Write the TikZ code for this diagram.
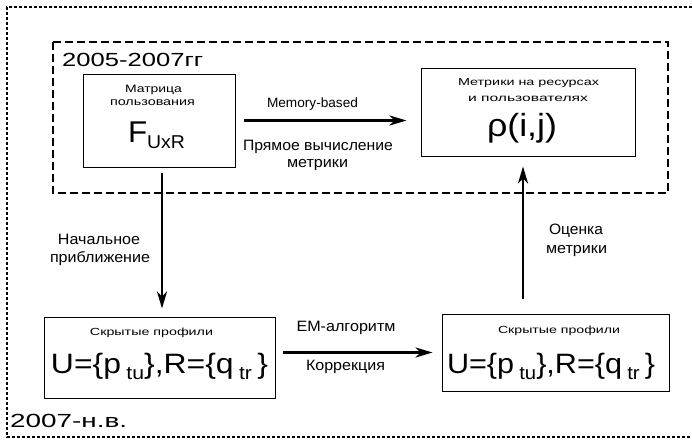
\documentclass[tikz,border=0pt]{standalone}
\usepackage{fontspec}
\usepackage{graphicx}
\setmainfont{Liberation Sans}
\usetikzlibrary{arrows.meta}
\newcommand{\fsz}[1]{\fontsize{#1}{#1}\selectfont}
% text of a given size, set to a given width
\newcommand{\fw}[3]{\resizebox{#1pt}{\height}{\fsz{#2}#3}}
\newcommand{\subtxt}[1]{\raisebox{-6.5pt}{\fsz{18.6}#1}}
\newcommand{\profiles}{\fsz{28}U=\{p\,\subtxt{tu}\},R=\{q\,\subtxt{tr}\,\}}
\begin{document}
\begin{tikzpicture}[x=1pt,y=-1pt,
  box/.style={draw,line width=0.9pt,inner sep=0pt},
  txt/.style={inner sep=0pt,anchor=base},
  era/.style={inner sep=0pt,anchor=base west},
  arr/.style={line width=2.4pt,-{Stealth[length=17pt,width=10pt,inset=5pt]}}]
\useasboundingbox (0,0) rectangle (692,441);

% period frames
\draw[line width=2.6pt,dash pattern=on 3pt off 2pt] (697,7) -- (7,7) -- (7,437) -- (697,437);
\draw[line width=2.6pt,dash pattern=on 8pt off 4pt] (53,42) rectangle (668,193);
\node[era] (e1) at (62,67) {\fw{141}{19}{2005-2007гг}};
\node[era] (e2) at (10,427) {\fw{117}{19}{2007-н.в.}};

% boxes
\node[box,minimum width=152pt,minimum height=93pt] (F) at (159,120.5) {};
\node[box,minimum width=214pt,minimum height=88pt] (rho) at (528,112) {};
\node[box,minimum width=231pt,minimum height=81pt] (BL) at (159.5,357.5) {};
\node[box,minimum width=227pt,minimum height=77pt] (BR) at (555.5,352.5) {};

% box contents
\node[txt] (Ft1) at (153.5,92.7) {\fw{57}{10.7}{Матрица}};
\node[txt] (Ft2) at (152.5,106) {\fw{85}{10.7}{пользования}};
\node[txt] (Fm) at (156.5,142) {\fw{57}{30}{F\raisebox{-6pt}{\fsz{18.6}UxR}}};

\node[txt] (rt1) at (528.5,86) {\fw{141}{10}{Метрики на ресурсах}};
\node[txt] (rt2) at (528,101) {\fw{120}{10}{и пользователях}};
\node[txt] (rm) at (522,136) {\fw{70}{32}{ρ(i,j)}};

\node[txt] (BLt) at (151.5,335) {\fw{123}{10.3}{Скрытые профили}};
\node[txt] (BLm) at (159.5,373) {\resizebox{217pt}{\height}{\profiles}};

\node[txt] (BRt) at (559,333) {\fw{122}{10.3}{Скрытые профили}};
\node[txt] (BRm) at (551,373) {\resizebox{208pt}{\height}{\profiles}};

% connectors
\draw[arr,shorten <=9pt,shorten >=14pt] (F.east) -- (F.east -| rho.west);
\draw[arr,shorten <=6pt,shorten >=8pt] ([xshift=3pt]F.south) -- ([xshift=3pt]F.south |- BL.north);
\draw[arr,shorten <=8pt,shorten >=9pt] (BL.east |- BR.west) -- (BR.west);
\draw[arr,shorten <=15pt,shorten >=10pt] ([xshift=-5pt]rho.south |- BR.north) -- ([xshift=-5pt]rho.south);

% connector labels
\node[txt] (l1) at (312.5,107) {\fw{91}{13.5}{Memory-based}};
\node[txt] (l2) at (318,150) {\fw{150}{15}{Прямое вычисление}};
\node[txt] (l3) at (317.5,167) {\fw{61}{15}{метрики}};
\node[txt] (l4) at (99,244) {\fw{82}{15}{Начальное}};
\node[txt] (l5) at (100,262.7) {\fw{100}{15}{приближение}};
\node[txt] (l6) at (346,331) {\fw{99}{15}{EM-алгоритм}};
\node[txt] (l7) at (345.5,370) {\fw{79}{15}{Коррекция}};
\node[txt] (l8) at (576,234.3) {\fw{54}{15}{Оценка}};
\node[txt] (l9) at (576.5,253) {\fw{61}{15}{метрики}};
\end{tikzpicture}
\end{document}
